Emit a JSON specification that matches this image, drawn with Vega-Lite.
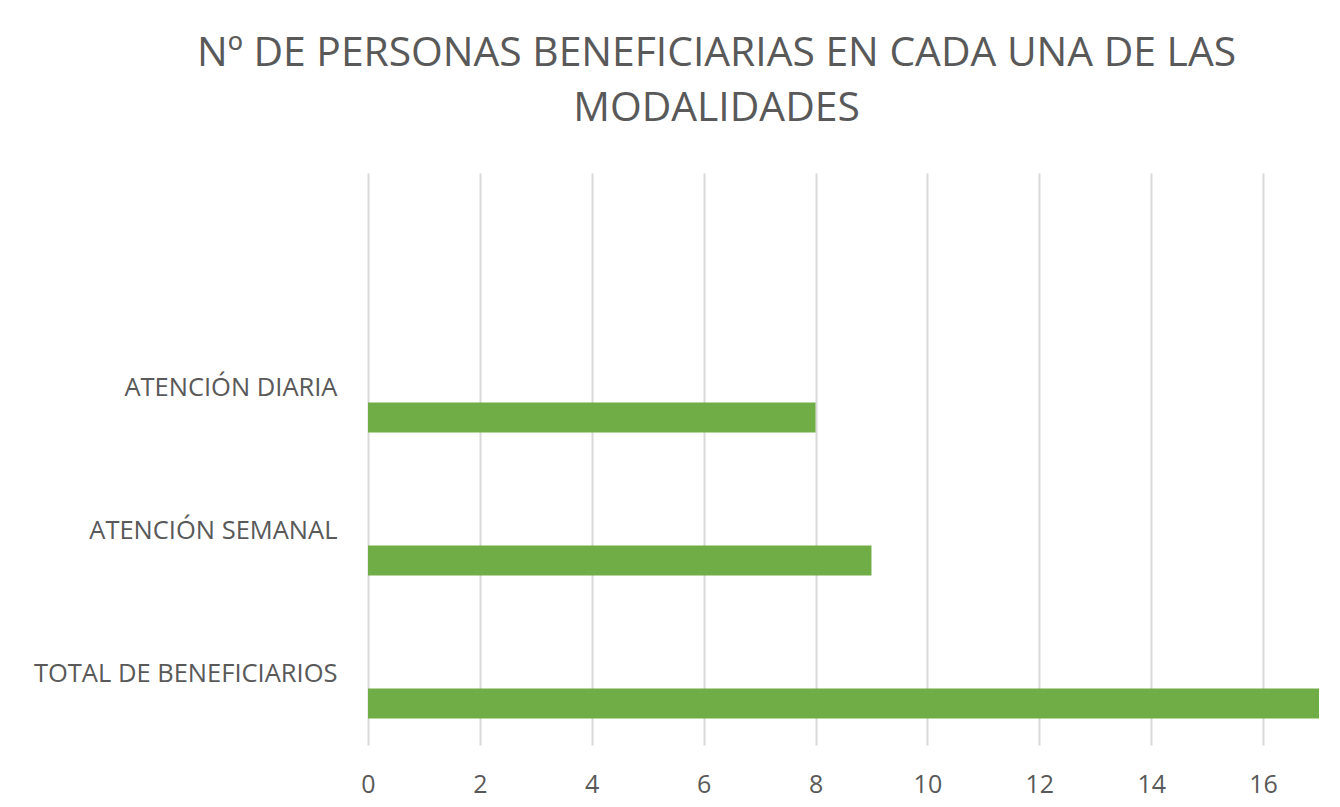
{
  "$schema": "https://vega.github.io/schema/vega-lite/v6.json",
  "width": 951,
  "height": 572,
  "autosize": "none",
  "padding": {"left": 368, "top": 173, "right": 21, "bottom": 62},
  "background": "white",
  "title": {
    "text": ["Nº DE PERSONAS BENEFICIARIAS EN CADA UNA DE LAS", "MODALIDADES"],
    "font": "Open Sans",
    "fontSize": 40.8,
    "fontWeight": "normal",
    "color": "#595959",
    "anchor": "middle",
    "frame": "group",
    "dx": -127,
    "lineHeight": 55,
    "offset": 43
  },
  "data": {
    "values": [
      {"modalidad": "ATENCIÓN DIARIA", "personas": 8},
      {"modalidad": "ATENCIÓN SEMANAL", "personas": 9},
      {"modalidad": "TOTAL DE BENEFICIARIOS", "personas": 17}
    ]
  },
  "mark": {"type": "bar", "color": "#70ad47", "height": 30, "yOffset": 30},
  "encoding": {
    "y": {
      "field": "modalidad",
      "type": "nominal",
      "sort": null,
      "scale": {"domain": ["", "ATENCIÓN DIARIA", "ATENCIÓN SEMANAL", "TOTAL DE BENEFICIARIOS"], "paddingInner": 0, "paddingOuter": 0},
      "axis": {
        "title": null,
        "domain": false,
        "ticks": false,
        "grid": false,
        "labelFont": "Open Sans",
        "labelFontSize": 25.5,
        "labelColor": "#595959",
        "labelPadding": 31,
        "labelLimit": 500
      }
    },
    "x": {
      "field": "personas",
      "type": "quantitative",
      "scale": {"domain": [0, 17], "nice": false},
      "axis": {
        "title": null,
        "domain": false,
        "ticks": false,
        "values": [0, 2, 4, 6, 8, 10, 12, 14, 16],
        "grid": true,
        "gridColor": "#d9d9d9",
        "gridWidth": 2,
        "labelFlush": false,
        "labelFont": "Open Sans",
        "labelFontSize": 25,
        "labelColor": "#595959",
        "labelPadding": 27
      }
    }
  },
  "config": {"view": {"stroke": null}}
}
